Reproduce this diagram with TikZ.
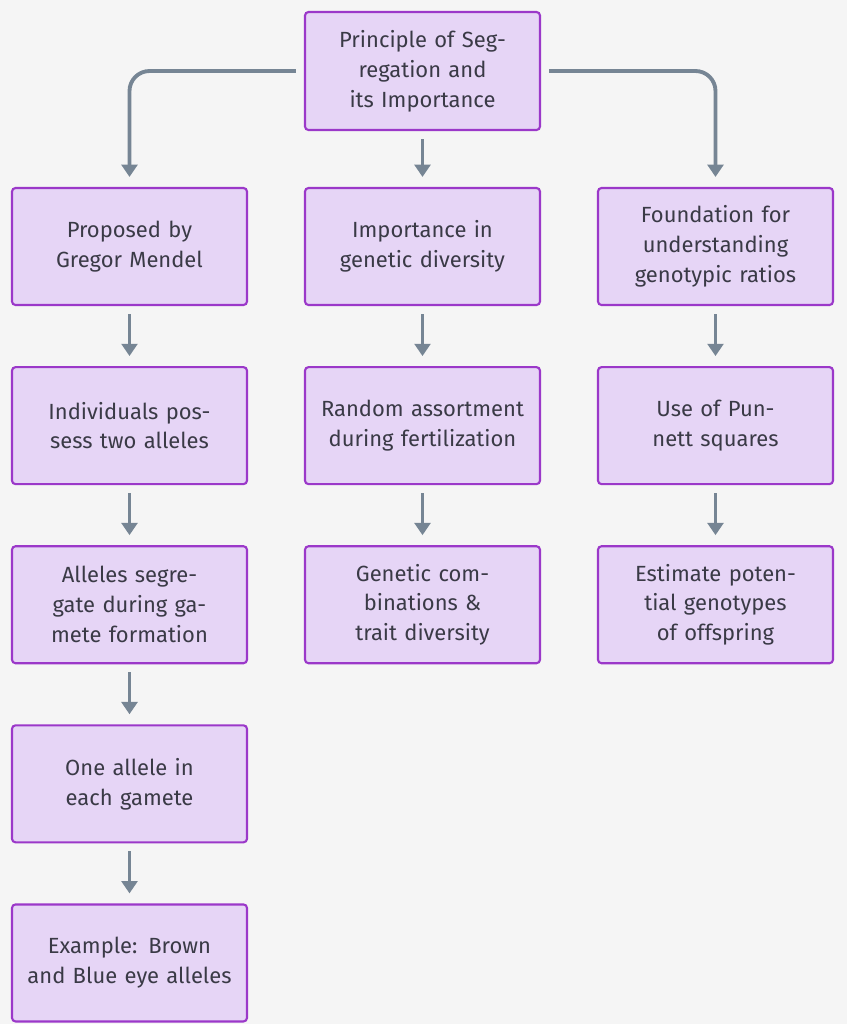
\documentclass[tikz,border=0pt]{standalone}
\usepackage{fontspec}
\setmainfont{Fira Sans}
\usetikzlibrary{positioning, arrows.meta}
\definecolor{boxfill}{HTML}{E6D5F6}
\definecolor{boxline}{HTML}{9B38C9}
\definecolor{arrowgray}{HTML}{768594}
\definecolor{textgray}{HTML}{3A3A46}
\tikzset{
box/.style={draw=boxline, fill=boxfill, line width=1.2pt, rounded corners=2pt,
  minimum width=4.7cm, minimum height=2.34cm, text width=4.2cm, align=center,
  text=textgray, font=\fontsize{12.5}{17}\selectfont}, % the purple boxes
link/.style={-{Triangle[length=7pt,width=9pt]}, draw=arrowgray, line width=2.2pt,
  shorten <=0.16cm, shorten >=0.2cm}, % gray connectors
node distance=1.2cm and 1.16cm,
}

\begin{document}
\begin{tikzpicture}
        \fill[white!96!black] (0,0) rectangle (16.94,-20.48);
        \node[box, minimum height=2.36cm] (top) at (8.45,-1.42) {Principle of Segregation and its Importance};
        \node[box] (mendel) at (2.59,-4.93) {Proposed by Gregor Mendel};
        \node[box] (divers) at (8.45,-4.93) {Importance in genetic diversity};
        \node[box] (found) at (14.31,-4.93) {Foundation for understanding genotypic ratios};
        \node[box, below=of mendel] (indiv) {Individuals possess two alleles};
        \node[box, below=of indiv] (segr) {Alleles segregate during gamete formation};
        \node[box, below=of segr] (gamete) {One allele in each gamete};
        \node[box, below=of gamete] (eyes) {Example: Brown and Blue eye alleles};
        \node[box, below=of divers] (random) {Random assortment during fertilization};
        \node[box, below=of random] (combi) {Genetic combinations \& trait diversity};
        \node[box, below=of found] (punnett) {Use of Punnett squares};
        \node[box, below=of punnett] (offs) {Estimate potential genotypes of offspring};

        \draw[link, rounded corners=0.4cm] (top.west) -| (mendel.north);
        \draw[link, rounded corners=0.4cm] (top.east) -| (found.north);
        \draw[link] (top) -- (divers);
        \draw[link] (mendel) -- (indiv);
        \draw[link] (indiv) -- (segr);
        \draw[link] (segr) -- (gamete);
        \draw[link] (gamete) -- (eyes);
        \draw[link] (divers) -- (random);
        \draw[link] (random) -- (combi);
        \draw[link] (found) -- (punnett);
        \draw[link] (punnett) -- (offs);
\end{tikzpicture}
\end{document}
